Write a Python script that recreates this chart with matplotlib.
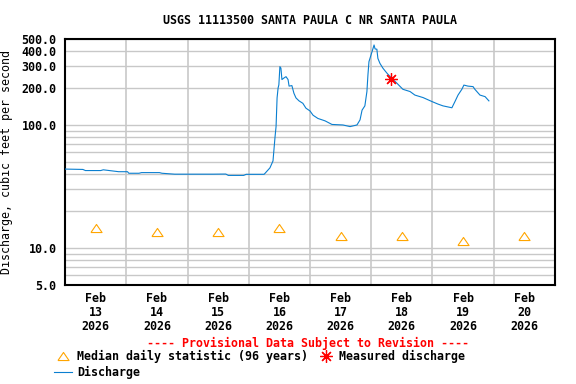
import numpy as np
import matplotlib
matplotlib.use('Agg')
import matplotlib.pyplot as plt
from matplotlib.lines import Line2D
from matplotlib.ticker import FixedLocator, NullFormatter

plt.rcParams.update({
    'font.family': 'DejaVu Sans Mono',
    'font.weight': 'bold',
    'font.size': 8.4,
})

# --- data (hours since Feb 13 2026 00:00) ---
q_hours = [0, 7, 8, 14, 15, 21, 24.5, 25, 29, 30, 37, 38, 43, 58, 63, 64, 70, 71,
           78, 78.4, 80.3, 81.5, 82.3, 82.7, 83.1, 83.5, 83.8, 84.2, 84.6, 85.0,
           85.8, 86.6, 87.4, 87.8, 88.9, 89.7, 90.5, 91.7, 93.2, 94.4, 96.0, 97.2,
           99.1, 101.9, 104.6, 108.9, 111.7, 114.4, 115.6, 116.4, 117.5, 118.3,
           118.7, 119.1, 120.3, 121.1, 121.5, 122.2, 122.6, 123.4, 124.6, 126.2,
           128.1, 130.1, 132.4, 135.2, 137.1, 140.3, 143.8, 146.1, 148.1, 151.6,
           152.8, 154.0, 155.5, 156.3, 157.9, 159.9, 160.6, 162.6, 164.6, 166.1]
q_cfs = [43.8, 43.5, 42.6, 42.6, 43.2, 41.7, 41.7, 40.5, 40.5, 41.0, 41.0, 40.5,
         39.8, 39.8, 39.9, 38.9, 38.9, 39.7, 39.7, 40.5, 44.8, 51, 80, 97, 166,
         200, 212, 298, 290, 234, 241, 247, 234, 207, 209, 181, 166, 157, 150,
         137, 130, 120, 113, 108, 101, 100, 97, 100, 110, 132, 143, 187, 255, 327,
         394, 447, 415, 413, 348, 317, 289, 263, 239, 218, 195, 187, 175, 167, 155,
         148, 143, 138, 155, 175, 195, 211, 207, 205, 195, 175, 170, 157]

median_hours = [12, 36, 60, 84, 108, 132, 156, 180]
median_cfs = [14.5, 13.4, 13.4, 14.5, 12.4, 12.4, 11.3, 12.4]

meas_hours = [127.7]
meas_cfs = [237]

day_labels = ['Feb\n13\n2026', 'Feb\n14\n2026', 'Feb\n15\n2026', 'Feb\n16\n2026',
              'Feb\n17\n2026', 'Feb\n18\n2026', 'Feb\n19\n2026', 'Feb\n20\n2026']
ytick_vals = [5, 10, 100, 200, 300, 400, 500]

line_color = '#0a7fd0'
med_color = '#ffa500'
tri = [(-5.5, -4), (5.5, -4), (0, 4), (-5.5, -4)]

fig = plt.figure(figsize=(5.76, 3.84), dpi=100)
ax = fig.add_axes([65 / 576, 1 - 285 / 384, 490 / 576, 246 / 384])

ax.plot(q_hours, q_cfs, '-', color=line_color, linewidth=0.8, zorder=3)
ax.plot(median_hours, median_cfs, linestyle='none', marker=tri, markersize=8,
        markerfacecolor='none', markeredgecolor=med_color, markeredgewidth=0.8,
        zorder=4)
ax.plot(meas_hours, meas_cfs, linestyle='none', marker=(8, 2, 0), markersize=9,
        color='red', markeredgewidth=0.9, zorder=5)

ax.set_yscale('log')
ax.set_ylim(5, 500)
ax.set_xlim(0, 192)

# grid: every log minor decade step, midnight lines
grid_y = [5, 6, 7, 8, 9, 10, 20, 30, 40, 50, 60, 70, 80, 90, 100, 200, 300, 400, 500]
for v in grid_y:
    ax.axhline(v, color='#c8c8c8', linewidth=1.0, zorder=1)
for h in range(24, 192, 24):
    ax.axvline(h, color='#c8c8c8', linewidth=1.2, zorder=1)

ax.yaxis.set_major_locator(FixedLocator(ytick_vals))
ax.yaxis.set_minor_locator(FixedLocator([]))
ax.yaxis.set_minor_formatter(NullFormatter())
ax.set_yticklabels([f'{v:.1f}' for v in ytick_vals])
ax.set_xticks(median_hours)
ax.set_xticklabels(day_labels, linespacing=1.1)
ax.tick_params(axis='both', length=0)
ax.tick_params(axis='y', pad=6)
ax.tick_params(axis='x', pad=5)

for s in ax.spines.values():
    s.set_linewidth(1.5)

ax.set_ylabel('Discharge, cubic feet per second', labelpad=6)
fig.text(310 / 576, 1 - 20 / 384, 'USGS 11113500 SANTA PAULA C NR SANTA PAULA',
         ha='center', va='center')

# provisional note and legend
fig.text(308 / 576, 1 - 343 / 384, '---- Provisional Data Subject to Revision ----',
         ha='center', va='center', color='red')
fig.add_artist(Line2D([63 / 576], [1 - 356 / 384], linestyle='none', marker=tri,
                      markersize=8, markerfacecolor='none',
                      markeredgecolor=med_color, markeredgewidth=0.8))
fig.text(77 / 576, 1 - 356 / 384, 'Median daily statistic (96 years)', va='center')
fig.add_artist(Line2D([326 / 576], [1 - 356 / 384], linestyle='none',
                      marker=(8, 2, 0), markersize=9, color='red',
                      markeredgewidth=0.9))
fig.text(339 / 576, 1 - 356 / 384, 'Measured discharge', va='center')
fig.add_artist(Line2D([54 / 576, 72 / 576], [1 - 372 / 384, 1 - 372 / 384],
                      color=line_color, linewidth=0.8))
fig.text(77 / 576, 1 - 372 / 384, 'Discharge', va='center')

fig.savefig('out.png', dpi=100)
